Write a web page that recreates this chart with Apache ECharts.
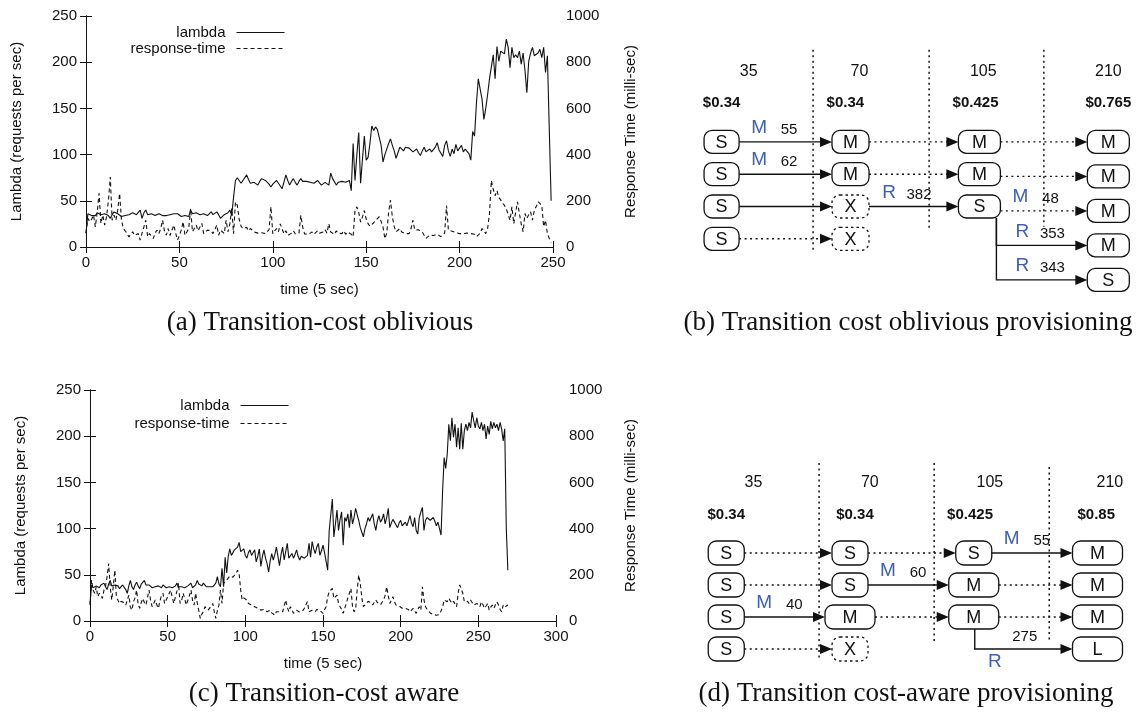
<!DOCTYPE html>
<html><head><meta charset="utf-8">
<script src="https://cdn.jsdelivr.net/npm/echarts@6/dist/echarts.min.js"></script>
<style>html,body{margin:0;padding:0;background:#fff}#c{width:1147px;height:712px}</style>
</head><body><div id="c"></div>
<script>
// ---------------- DATA: panel (a) transition-cost oblivious (t = 0..249, step 5 sec) ----------------
const lambdaA = [
15,36,38,34,36,34,37,38,35,33, 36,38,34,31,35,38,36,36,34,33,
31,34,36,35,34,37,38,35,34,40, 31,37,40,35,33,36,38,34,35,36,
35,34,33,34,36,35,34,36,38,36, 34,33,31,34,36,33,40,36,34,37,
38,35,34,36,35,34,36,38,35,34, 38,35,31,33,35,36,37,40,34,54,
72,75,73,69,72,74,78,73,69,71, 70,69,67,71,74,76,72,70,68,65,
68,70,72,69,67,63,61,78,72,67, 71,74,70,67,71,74,71,69,71,72,
70,69,69,71,72,70,67,68,70,69, 67,80,74,72,67,70,72,71,69,70,
71,72,61,112,72,100,124,69,95,120, 94,97,112,131,126,130,127,126,110,92,
100,106,112,117,110,104,96,102,108,106, 104,108,110,107,106,103,105,106,102,99,
104,108,103,104,106,103,101,108,113,105, 104,98,110,115,104,98,106,101,111,104,
103,110,103,106,108,101,94,125,120,155, 182,180,160,138,150,165,182,184,208,182,
217,201,212,214,209,225,216,194,216,205, 208,205,212,198,210,191,167,201,210,216,
207,207,210,214,205,216,189,207,128,50
];
const responseA = [
59,124,109,120,138,87,150,232,102,138, 95,130,200,303,116,138,116,160,232,116,
80,70,66,44,55,66,50,44,58,30, 60,87,116,44,58,50,37,60,73,58,
80,116,70,51,80,50,44,95,60,30, 50,73,109,51,65,80,166,66,80,95,
70,66,102,58,65,73,80,70,58,75, 95,51,73,65,58,116,66,100,166,58,
195,181,120,90,80,75,85,70,80,75, 65,72,60,68,62,70,58,60,75,174,
57,70,80,65,100,108,57,70,50,45, 60,70,57,65,60,137,86,57,60,55,
60,65,55,50,70,60,55,65,75,60, 101,65,60,55,70,60,65,58,70,55,
65,60,55,44,158,174,150,108,130,158, 120,101,90,86,105,115,120,131,110,86,
36,60,150,203,130,88,66,72,80,65, 60,58,65,58,80,116,73,70,75,80,
65,58,37,45,51,48,50,44,55,58, 45,37,60,180,73,70,68,66,62,60,
58,60,58,62,60,66,58,51,55,45, 37,60,80,70,58,80,145,288,250,222,
244,215,203,190,180,165,159,116,174,101, 150,196,145,100,66,145,123,140,152,116,
159,175,196,190,180,88,116,58,37,20
];
// ---------------- DATA: panel (c) transition-cost aware (t = 0..269) ----------------
const lambdaC = [
19,39,36,35,38,37,36,39,38,41, 37,34,40,44,38,37,39,41,38,35,
37,39,38,34,30,38,44,37,34,39, 42,38,35,40,42,44,39,37,39,41,
36,34,37,39,38,37,36,39,37,36, 35,37,39,36,34,38,41,37,35,37,
39,36,35,38,40,41,36,34,39,44, 40,39,38,41,39,37,38,37,36,37,
39,41,48,40,37,57,37,69,52,70, 78,71,74,77,76,80,85,75,73,78,
71,68,74,77,71,73,77,64,70,78, 59,70,77,68,62,53,65,73,66,72,
80,70,60,72,80,66,75,84,68,70, 73,68,72,77,70,66,70,71,68,70,
71,84,69,86,78,73,80,84,71,76, 82,74,73,55,98,115,132,91,105,120,
98,110,118,82,112,108,116,101,120,105, 112,122,115,109,101,96,91,100,105,112,
108,107,116,105,98,108,114,107,110,116, 105,112,122,101,106,110,107,105,101,106,
109,103,105,107,103,102,114,106,102,112, 98,94,112,118,123,98,109,112,114,109,
107,112,108,103,107,100,93,141,177,165, 181,213,195,220,199,213,188,209,186,214,
186,206,213,206,215,209,226,217,209,220, 211,208,215,206,213,197,211,202,216,208,
215,209,213,206,215,208,195,208,100,55
];
const responseC = [
69,177,134,120,148,105,120,110,98,134, 150,192,249,148,91,150,220,105,90,76,
85,91,80,69,90,112,60,47,84,100, 134,70,55,80,98,80,69,100,134,90,
62,75,91,70,55,85,110,120,76,90, 105,120,134,100,76,105,130,163,76,90,
120,95,69,90,110,134,90,69,120,80, 47,11,30,40,62,55,47,55,65,76,
40,11,45,69,134,76,163,170,177,185, 195,199,190,192,205,220,206,134,91,100,
105,90,76,72,69,65,62,58,55,50, 47,52,50,45,40,45,47,35,30,25,
40,47,40,33,40,47,91,60,40,62, 50,33,40,47,40,38,33,45,55,70,
84,40,45,47,42,40,50,55,45,38, 33,50,62,105,127,135,141,98,105,112,
76,62,50,33,55,76,100,120,141,62, 40,50,134,199,163,100,62,70,76,85,
91,80,69,80,91,80,76,70,62,91, 110,148,110,76,90,105,83,69,69,65,
62,55,47,55,62,50,40,45,55,45, 33,50,62,47,148,91,62,50,47,35,
33,28,25,25,25,28,33,60,91,85, 83,98,90,76,85,91,62,120,156,140,
120,83,91,85,76,91,80,69,72,76, 70,62,83,70,55,65,76,47,60,69,
55,70,83,69,50,40,69,60,55,69
];
const seriesNames = ['lambda', 'response-time'];
const axisNames = {x: 'time (5 sec)', yLeft: 'Lambda (requests per sec)', yRight: 'Response Time (milli-sec)'};
const captions = ['(a) Transition-cost oblivious', '(b) Transition cost oblivious provisioning',
                  '(c) Transition-cost aware', '(d) Transition cost-aware provisioning'];

// ---------------- DATA: provisioning diagrams ----------------
// nodes: [column, row, instance type]; edges: [fromCol, fromRow, toCol, toRow, kind, action, cost]
const headersB = ['35', '70', '105', '210'];
const costsB = ['$0.34', '$0.34', '$0.425', '$0.765'];
const nodesB = [[0,0,'S'],[0,1,'S'],[0,2,'S'],[0,3,'S'],
  [1,0,'M'],[1,1,'M'],[1,2,'X'],[1,3,'X'],
  [2,0,'M'],[2,1,'M'],[2,2,'S'],
  [3,0,'M'],[3,1,'M'],[3,2,'M'],[3,3,'M'],[3,4,'S']];
const edgesB = [
  [0,0,1,0,'move','M','55'], [0,1,1,1,'move','M','62'], [0,2,1,2,'move','',''], [0,3,1,3,'stay','',''],
  [1,0,2,0,'stay','',''], [1,1,2,1,'stay','',''], [1,2,2,2,'move','R','382'],
  [2,0,3,0,'stay','',''], [2,1,3,1,'stay','',''], [2,2,3,2,'stay','M','48'],
  [2,2,3,3,'move','R','353'], [2,2,3,4,'move','R','343']];

const headersD = ['35', '70', '105', '210'];
const costsD = ['$0.34', '$0.34', '$0.425', '$0.85'];
const nodesD = [[0,0,'S'],[0,1,'S'],[0,2,'S'],[0,3,'S'],
  [1,0,'S'],[1,1,'S'],[1,2,'M'],[1,3,'X'],
  [2,0,'S'],[2,1,'M'],[2,2,'M'],
  [3,0,'M'],[3,1,'M'],[3,2,'M'],[3,3,'L']];
const edgesD = [
  [0,0,1,0,'stay','',''], [0,1,1,1,'stay','',''], [0,2,1,2,'move','M','40'], [0,3,1,3,'stay','',''],
  [1,0,2,0,'stay','',''], [1,1,2,1,'move','M','60'], [1,2,2,2,'stay','',''],
  [2,0,3,0,'move','M','55'], [2,1,3,1,'stay','',''], [2,2,3,2,'stay','',''],
  [2,2,3,3,'move','R','275']];

// ---------------- STYLE / LAYOUT ----------------
const INK = '#111';
const BLUE = '#3d5fb8';
const FONT = 'Liberation Sans';
const SERIF = 'Liberation Serif';

const layoutB = {
  boxW: n => [35, 37, 42, 42][n[0]], boxH: 23, rowScale: [0.97, 0.97, 0.97, 1.036],
  headerX: [0.21, 1.07, 2.03, 3.0], headerRow: -2.1,
  costX: [0, 0.96, 1.97, 3.0], costRow: -1.17,
  seps: [[0.71, -2.77, 3.24], [1.61, -2.77, 2.64], [2.5, -2.77, 2.55]],
  elbowDx: 17, elbowLabelDx: 6, actionBelow: false
};
const layoutD = {
  boxW: n => (n[2] === 'M' || n[2] === 'L') ? 50 : 36, boxH: 24, rowScale: [1, 1, 1, 1],
  headerX: [0.22, 1.16, 2.13, 3.1], headerRow: -2.19,
  costX: [0, 1.04, 1.97, 2.99], costRow: -1.19,
  seps: [[0.75, -2.81, 3.34], [1.68, -2.81, 2.78], [2.61, -2.69, 2.81]],
  elbowDx: 1, elbowLabelDx: 0, actionBelow: true
};

const toPairs = arr => arr.map((v, i) => [i, v]);
const txt = (size, weight) => ({color: INK, fontSize: size, fontFamily: FONT, fontWeight: weight || 'normal'});

function plotXAxes(grid, max) {
  const base = {gridIndex: grid, type: 'value', min: 0, max: max, interval: 50,
    axisLine: {show: true, lineStyle: {color: INK, width: 1}},
    axisTick: {show: true, inside: true, length: 6, lineStyle: {color: INK}},
    splitLine: {show: false}};
  return [
    Object.assign({}, base, {position: 'bottom',
      axisLabel: Object.assign({margin: 8}, txt(15)),
      name: axisNames.x, nameLocation: 'middle', nameGap: 35, nameTextStyle: txt(15)}),
    Object.assign({}, base, {position: 'top', axisLabel: {show: false}})
  ];
}
function plotYAxes(grid, rightGap) {
  const common = {gridIndex: grid, type: 'value',
    axisLine: {show: true, lineStyle: {color: INK, width: 1}},
    axisTick: {show: true, inside: true, length: 6, lineStyle: {color: INK}},
    splitLine: {show: false}, nameLocation: 'middle', nameRotate: 90, nameTextStyle: txt(15)};
  return [
    Object.assign({}, common, {position: 'left', min: 0, max: 250, interval: 50,
      axisLabel: Object.assign({margin: 9}, txt(15)), name: axisNames.yLeft, nameGap: 62}),
    Object.assign({}, common, {position: 'right', min: 0, max: 1000, interval: 200,
      axisLabel: Object.assign({margin: 13, formatter: v => String(v)}, txt(15)),
      name: axisNames.yRight, nameGap: rightGap})
  ];
}
function lineSeries(name, data, axis, yAxis, dashed) {
  return {type: 'line', name: name, data: toPairs(data), xAxisIndex: axis, yAxisIndex: yAxis,
    symbol: 'none', showSymbol: false, silent: true,
    lineStyle: {color: INK, width: 1.1, type: dashed ? [4, 3] : 'solid'}, itemStyle: {color: INK}};
}
function legendItem(name, right, top) {
  return {data: [name], right: right, top: top, orient: 'horizontal', align: 'right', padding: 0,
    itemWidth: 48, itemHeight: 12, selectedMode: false,
    itemStyle: {opacity: 0, borderWidth: 0},
    lineStyle: {width: 1, opacity: 1},
    textStyle: Object.assign({padding: [0, 6, 0, 0]}, txt(15))};
}

function diagramSeries(d, ax) {
  const L = d.layout;
  const nodeAt = (c, r) => d.nodes.find(n => n[0] === c && n[1] === r);
  const pos = (api, c, r) => api.coord([c, r * L.rowScale[c]]);
  const AL = 12, AW = 5;
  const base = {type: 'custom', xAxisIndex: ax, yAxisIndex: ax, silent: true, clip: false};
  const out = [];
  out.push(Object.assign({}, base, {
    data: L.seps.map(s => [s[0], s[1]]),
    renderItem(p, api) {
      const s = L.seps[p.dataIndex];
      const a = api.coord([s[0], s[1]]), b = api.coord([s[0], s[2]]);
      return {type: 'line', shape: {x1: a[0], y1: a[1], x2: b[0], y2: b[1]},
        style: {stroke: INK, lineWidth: 1.5, lineDash: [2, 3.5]}};
    }}));
  out.push(Object.assign({}, base, {
    data: d.headers.map((h, i) => [L.headerX[i], L.headerRow]),
    renderItem(p, api) {
      const i = p.dataIndex;
      const a = api.coord([L.headerX[i], L.headerRow]), c = api.coord([L.costX[i], L.costRow]);
      return {type: 'group', children: [
        {type: 'text', style: {text: d.headers[i], x: a[0], y: a[1], align: 'center', verticalAlign: 'middle',
          fontSize: 16, fontFamily: FONT, fill: INK}},
        {type: 'text', style: {text: d.costs[i], x: c[0], y: c[1], align: 'center', verticalAlign: 'middle',
          fontSize: 15, fontWeight: 'bold', fontFamily: FONT, fill: INK}}]};
    }}));
  out.push(Object.assign({}, base, {
    data: d.edges.map(e => [e[0], e[1], e[2], e[3]]),
    renderItem(p, api) {
      const e = d.edges[p.dataIndex];
      const fn = nodeAt(e[0], e[1]), tn = nodeAt(e[2], e[3]);
      const s = pos(api, e[0], e[1]), t = pos(api, e[2], e[3]);
      const tipX = t[0] - L.boxW(tn) / 2, y = t[1];
      let pts, hx, ldx = 0;
      const elbow = e[1] !== e[3];
      if (!elbow) { hx = s[0] + L.boxW(fn) / 2; pts = [[hx, y], [tipX - AL + 1, y]]; }
      else { hx = s[0] + L.elbowDx; ldx = L.elbowLabelDx; pts = [[hx, s[1] + L.boxH / 2], [hx, y], [tipX - AL + 1, y]]; }
      const kids = [
        {type: 'polyline', shape: {points: pts},
          style: {stroke: INK, fill: null, lineWidth: 1.4, lineDash: e[4] === 'stay' ? [2, 3.5] : null}},
        {type: 'polygon', shape: {points: [[tipX, y], [tipX - AL, y - AW], [tipX - AL, y + AW]]}, style: {fill: INK}}
      ];
      if (e[5]) {
        const ay = (L.actionBelow && elbow) ? y + 13 : y - 14;
        kids.push({type: 'text', style: {text: e[5], x: hx + 20 + ldx, y: ay, align: 'center', verticalAlign: 'middle',
          fontSize: 19, fontFamily: FONT, fill: BLUE}});
        kids.push({type: 'text', style: {text: e[6], x: hx + 50 + ldx, y: y - 12, align: 'center', verticalAlign: 'middle',
          fontSize: 15, fontFamily: FONT, fill: INK}});
      }
      return {type: 'group', children: kids};
    }}));
  out.push(Object.assign({}, base, {
    data: d.nodes.map(n => [n[0], n[1]]),
    renderItem(p, api) {
      const n = d.nodes[p.dataIndex];
      const c = pos(api, n[0], n[1]);
      const w = L.boxW(n), h = L.boxH;
      return {type: 'group', children: [
        {type: 'rect', shape: {x: c[0] - w / 2, y: c[1] - h / 2, width: w, height: h, r: 8},
          style: {fill: '#fff', stroke: INK, lineWidth: 1.3, lineDash: n[2] === 'X' ? [2.5, 3] : null}},
        {type: 'text', style: {text: n[2], x: c[0], y: c[1] + 1, align: 'center', verticalAlign: 'middle',
          fontSize: 18, fontFamily: FONT, fill: INK}}]};
    }}));
  return out;
}

const chart = echarts.init(document.getElementById('c'));
const xAxes = [].concat(plotXAxes(0, 250), plotXAxes(1, 300),
  [{gridIndex: 2, type: 'value', min: -0.4, max: 3.3, show: false},
   {gridIndex: 3, type: 'value', min: -0.6, max: 3.4, show: false}]);
const yAxes = [].concat(plotYAxes(0, 70), plotYAxes(1, 67),
  [{gridIndex: 2, type: 'value', min: -3, max: 5, inverse: true, show: false},
   {gridIndex: 3, type: 'value', min: -3.5, max: 4, inverse: true, show: false}]);

const captionPos = [[320, 323], [908, 323], [324, 694], [906, 694]];

chart.setOption({
  animation: false,
  backgroundColor: '#fff',
  grid: [
    {left: 86, top: 16, width: 467, height: 231},
    {left: 90, top: 390, width: 466, height: 231},
    {left: 670, top: 42, width: 480, height: 266.4},
    {left: 652, top: 441, width: 499, height: 240}
  ],
  xAxis: xAxes,
  yAxis: yAxes,
  legend: [
    legendItem(seriesNames[0], 862, 25), legendItem(seriesNames[1], 862, 41),
    legendItem(seriesNames[0], 858, 398), legendItem(seriesNames[1], 858, 416)
  ],
  graphic: captions.map((t, i) => ({type: 'text', x: captionPos[i][0], y: captionPos[i][1], silent: true,
    style: {text: t, align: 'center', verticalAlign: 'middle', fontSize: 27, fontFamily: SERIF, fill: INK}})),
  series: [
    lineSeries(seriesNames[0], lambdaA, 0, 0, false),
    lineSeries(seriesNames[1], responseA, 0, 1, true),
    lineSeries(seriesNames[0], lambdaC, 2, 2, false),
    lineSeries(seriesNames[1], responseC, 2, 3, true)
  ].concat(
    diagramSeries({layout: layoutB, headers: headersB, costs: costsB, nodes: nodesB, edges: edgesB}, 4),
    diagramSeries({layout: layoutD, headers: headersD, costs: costsD, nodes: nodesD, edges: edgesD}, 5)
  )
});
</script></body></html>
